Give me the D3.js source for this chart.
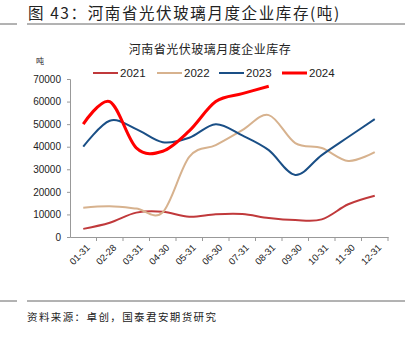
<!DOCTYPE html>
<html>
<head>
<meta charset="utf-8">
<script src="https://cdn.jsdelivr.net/npm/d3@7"></script>
<style>
  body { margin: 0; background: #fff; }
  svg { display: block; }
</style>
</head>
<body>
<svg id="chart" width="410" height="352"></svg>
<script>
// 月份（横轴）
const months = ["01-31", "02-28", "03-31", "04-30", "05-31", "06-30",
                "07-31", "08-31", "09-30", "10-31", "11-30", "12-31"];

// 各年库存（吨）
const v2021 = [3600, 6300, 10800, 11200, 9000, 10100, 10200, 8400, 7500, 7800, 14500, 18300];
const v2022 = [13000, 13600, 12600, 11000, 35500, 40700, 47300, 54000, 41600, 39400, 33700, 37600];
const v2023 = [40000, 51500, 47800, 42000, 44000, 50000, 45000, 38500, 27500, 36300, 44300, 52200];
const v2024 = [50000, 60000, 39500, 38000, 47000, 60000, 63500, 66800];

const yTicks = [0, 10000, 20000, 30000, 40000, 50000, 60000, 70000];

const series = [
    { name: "2021", values: v2021, color: "#c0393b", width: 2 },
    { name: "2022", values: v2022, color: "#d7b28e", width: 2 },
    { name: "2023", values: v2023, color: "#1a4f86", width: 2 },
    { name: "2024", values: v2024, color: "#ff0000", width: 3 }
];

const cjk = "'Noto Sans CJK SC', sans-serif";
const latin = "'Liberation Sans', Arial, sans-serif";

const svg = d3.select("#chart");

// 页眉
svg.append("text")
    .attr("x", 28).attr("y", 19)
    .attr("font-family", cjk).attr("font-size", 15.5)
    .attr("letter-spacing", 1.6)
    .attr("fill", "#222")
    .text("图 43：河南省光伏玻璃月度企业库存(吨)");

[[0, 17], [27, 405]].forEach(([a, b]) => {
    svg.append("line").attr("x1", a).attr("x2", b).attr("y1", 24).attr("y2", 24)
        .attr("stroke", "#666").attr("stroke-width", 1);
    svg.append("line").attr("x1", a).attr("x2", b).attr("y1", 301).attr("y2", 301)
        .attr("stroke", "#666").attr("stroke-width", 1);
});

svg.append("text")
    .attr("x", 27).attr("y", 321)
    .attr("font-family", cjk).attr("font-size", 10.5)
    .attr("letter-spacing", 1.4)
    .attr("fill", "#222")
    .text("资料来源：卓创，国泰君安期货研究");

// 图表标题
svg.append("text")
    .attr("x", 210).attr("y", 54)
    .attr("text-anchor", "middle")
    .attr("font-family", cjk).attr("font-size", 12)
    .attr("letter-spacing", 0.5)
    .attr("fill", "#222")
    .text("河南省光伏玻璃月度企业库存");

svg.append("text")
    .attr("x", 40).attr("y", 64)
    .attr("text-anchor", "middle")
    .attr("font-family", cjk).attr("font-size", 8)
    .attr("fill", "#222")
    .text("吨");

// 比例尺
const x = d3.scaleBand().domain(months).range([70, 388]);
const y = d3.scaleLinear().domain([0, 70000]).range([237, 79]);

// y 轴
const yAxis = svg.append("g")
    .attr("transform", "translate(70,0)")
    .call(d3.axisLeft(y).tickValues(yTicks).tickSize(3).tickPadding(6).tickFormat(d3.format("d")));
yAxis.select(".domain").attr("stroke", "#999");
yAxis.selectAll(".tick line").attr("stroke", "#999");
yAxis.selectAll("text")
    .attr("font-family", latin).attr("font-size", 10).attr("fill", "#222");

// x 轴
const xAxis = svg.append("g")
    .attr("transform", "translate(0,237)")
    .call(d3.axisBottom(x).tickSize(0).tickSizeOuter(0));
xAxis.select(".domain").attr("stroke", "#999");
xAxis.selectAll(".tick line").remove();
xAxis.selectAll(".tick text")
    .attr("font-family", latin).attr("font-size", 9.5).attr("fill", "#222")
    .attr("text-anchor", "end")
    .attr("transform", "translate(5,9) rotate(-45)")
    .attr("dy", "0.35em").attr("y", 0).attr("x", 0);

// 分类边界刻度
xAxis.selectAll(".bound")
    .data(months)
    .join("line")
    .attr("class", "bound")
    .attr("x1", d => x(d) + x.bandwidth())
    .attr("x2", d => x(d) + x.bandwidth())
    .attr("y1", 0).attr("y2", 4)
    .attr("stroke", "#999");

// 折线
const line = d3.line()
    .x((d, i) => x(months[i]) + x.bandwidth() / 2)
    .y(d => y(d))
    .curve(d3.curveCardinal.tension(0));

svg.append("g").selectAll("path")
    .data(series)
    .join("path")
    .attr("d", d => line(d.values))
    .attr("fill", "none")
    .attr("stroke", d => d.color)
    .attr("stroke-width", d => d.width);

// 图例
const legendX = [93, 157, 219, 282];
const legend = svg.append("g").selectAll("g")
    .data(series)
    .join("g")
    .attr("transform", (d, i) => `translate(${legendX[i]},73)`);
legend.append("line")
    .attr("x1", 0).attr("x2", 25)
    .attr("stroke", d => d.color)
    .attr("stroke-width", d => d.width);
legend.append("text")
    .attr("x", 27).attr("y", 4)
    .attr("font-family", latin).attr("font-size", 11.5)
    .attr("fill", "#222")
    .text(d => d.name);
</script>
</body>
</html>
